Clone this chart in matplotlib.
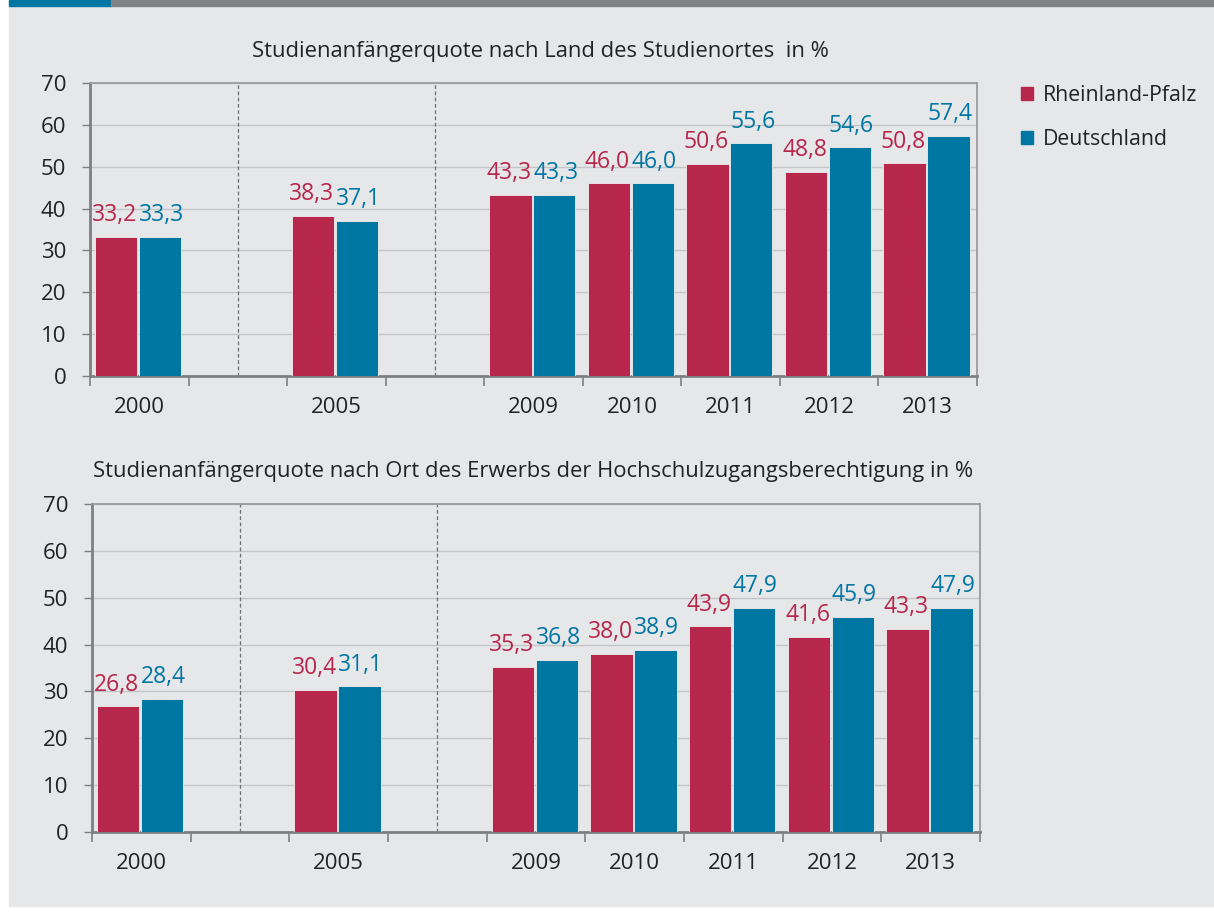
import matplotlib
matplotlib.use("Agg")
import matplotlib.pyplot as plt
from matplotlib.patches import Rectangle, Patch

plt.rcParams['font.family'] = ['Open Sans', 'DejaVu Sans']

# Data
slots = [0, 2, 4, 5, 6, 7, 8]          # slot index of each year with data
year_labels = ["2000", "2005", "2009", "2010", "2011", "2012", "2013"]

land_rp = [33.2, 38.3, 43.3, 46.0, 50.6, 48.8, 50.8]
land_de = [33.3, 37.1, 43.3, 46.0, 55.6, 54.6, 57.4]

hzb_rp = [26.8, 30.4, 35.3, 38.0, 43.9, 41.6, 43.3]
hzb_de = [28.4, 31.1, 36.8, 38.9, 47.9, 45.9, 47.9]

titles = ["Studienanfängerquote nach Land des Studienortes  in %",
          "Studienanfängerquote nach Ort des Erwerbs der Hochschulzugangsberechtigung in %"]
series_names = ["Rheinland-Pfalz", "Deutschland"]

RED = "#b7264b"
BLUE = "#0076a3"
BG = "#e6e7e9"
SPINE = "#7f7f82"
GRID = "#c4c5c8"
TXT = "#222222"

W, H = 1214, 916
fig = plt.figure(figsize=(W / 100, H / 100), dpi=100)
fig.patch.set_facecolor("white")

# grey panel and the coloured strip on top
fig.patches.append(Rectangle((9 / W, 10 / H), 1 - 9 / W, 1 - 10 / H,
                             transform=fig.transFigure, color=BG, zorder=-10))
fig.patches.append(Rectangle((9 / W, 1 - 6 / H), 102 / W, 6 / H,
                             transform=fig.transFigure, color=BLUE, zorder=-5))
fig.patches.append(Rectangle((111 / W, 1 - 6 / H), 1 - 111 / W, 6 / H,
                             transform=fig.transFigure, color="#818286", zorder=-5))


def fmt(v):
    return f"{v:.1f}".replace(".", ",")


def panel(rect, rp, de, title, title_xy):
    ax = fig.add_axes(rect)
    ax.set_facecolor(BG)
    ax.set_xlim(0, 9)
    ax.set_ylim(0, 70)

    x_rp = [s + 0.265 for s in slots]
    x_de = [s + 0.71 for s in slots]
    ax.bar(x_rp, rp, width=0.43, color=RED, edgecolor="#f0f0f0", linewidth=0.6, zorder=3)
    ax.bar(x_de, de, width=0.43, color=BLUE, edgecolor="#f0f0f0", linewidth=0.6, zorder=3)

    # value labels: red ones end at the red bar's right edge, blue ones start at the blue bar's left edge
    for xr, v in zip(x_rp, rp):
        ax.annotate(fmt(v), (xr + 0.215, v), xytext=(0, 7), textcoords="offset points",
                    ha="right", va="bottom", color=RED, fontsize=16.5)
    for xd, v in zip(x_de, de):
        ax.annotate(fmt(v), (xd - 0.215, v), xytext=(0, 7), textcoords="offset points",
                    ha="left", va="bottom", color=BLUE, fontsize=16.5)

    # dashed separators between the time blocks
    for xs in (1.5, 3.5):
        ax.axvline(xs, color="#6e6e70", linestyle=(0, (3, 2)), linewidth=0.9, zorder=2)

    ax.set_yticks(range(0, 71, 10))
    ax.yaxis.grid(True, color=GRID, linewidth=1.0, zorder=0)
    ax.set_axisbelow(True)

    ax.set_xticks(range(0, 10))
    ax.set_xticklabels([])
    ax.set_xticks([s + 0.5 for s in slots], minor=True)
    ax.set_xticklabels(year_labels, minor=True)
    ax.tick_params(axis="x", which="major", direction="out", length=7, width=1.2, color=SPINE)
    ax.tick_params(axis="x", which="minor", length=0, pad=15, labelsize=16, labelcolor=TXT)
    ax.tick_params(axis="y", direction="out", length=6, width=1.0, color=SPINE,
                   labelsize=16, labelcolor=TXT, pad=11)

    for side in ("left", "bottom"):
        ax.spines[side].set_color(SPINE)
        ax.spines[side].set_linewidth(2.0)
    for side in ("top", "right"):
        ax.spines[side].set_color("#9a9b9e")
        ax.spines[side].set_linewidth(1.3)

    fig.text(title_xy[0] / W, 1 - title_xy[1] / H, title, ha="center", va="baseline",
             fontsize=15.8, color=TXT)
    return ax


ax1 = panel([90 / W, 1 - 376 / H, 887 / W, 293 / H], land_rp, land_de, titles[0], (540, 57))
ax2 = panel([92 / W, 1 - 832 / H, 888 / W, 328 / H], hzb_rp, hzb_de, titles[1], (533, 477))

handles = [Patch(color=RED), Patch(color=BLUE)]
fig.legend(handles, series_names, loc="upper left", bbox_to_anchor=(1021 / W, 1 - 85 / H),
           frameon=False, fontsize=15.3, handlelength=0.58, handleheight=0.58,
           handletextpad=0.45, labelspacing=1.1, borderpad=0, borderaxespad=0,
           labelcolor=TXT)

fig.savefig("out.png", dpi=100, facecolor=fig.get_facecolor())
